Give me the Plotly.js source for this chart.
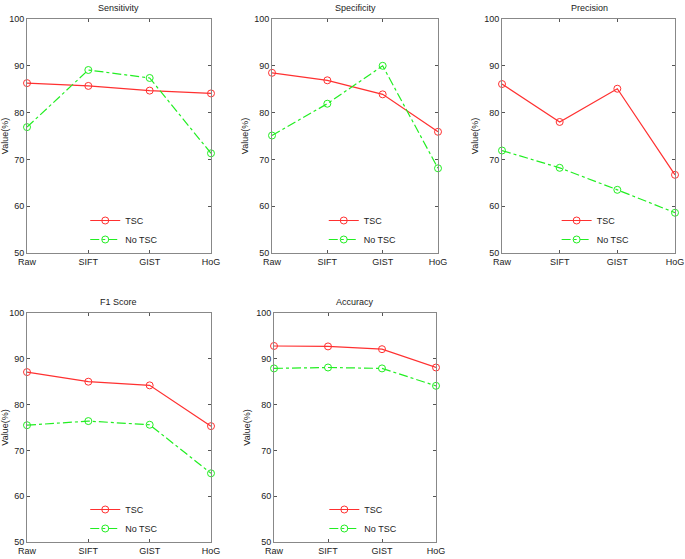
<!DOCTYPE html>
<html>
<head>
<meta charset="utf-8">
<script src="https://cdn.plot.ly/plotly-3.0.1.min.js"></script>
<style>
  body { margin: 0; background: #fff; }
  #plot { width: 685px; height: 559px; }
</style>
</head>
<body>
<div id="plot"></div>
<script>
// categories on the x axis
var methods = ["Raw", "SIFT", "GIST", "HoG"];

// panel titles
var titles = ["Sensitivity", "Specificity", "Precision", "F1 Score", "Accuracy"];

// values (%)
var sensTSC = [86.3, 85.7, 84.7, 84.1];
var sensNoTSC = [76.9, 89.1, 87.4, 71.3];
var specTSC = [88.5, 86.9, 83.9, 75.9];
var specNoTSC = [75.1, 81.9, 90.0, 68.1];
var precTSC = [86.1, 78.0, 85.1, 66.7];
var precNoTSC = [71.9, 68.2, 63.5, 58.6];
var f1TSC = [87.1, 85.0, 84.2, 75.3];
var f1NoTSC = [75.5, 76.4, 75.6, 65.0];
var accTSC = [92.8, 92.7, 92.1, 88.1];
var accNoTSC = [87.9, 88.1, 87.9, 84.1];

var tscSeries = [sensTSC, specTSC, precTSC, f1TSC, accTSC];
var noTscSeries = [sensNoTSC, specNoTSC, precNoTSC, f1NoTSC, accNoTSC];

var font = "Liberation Sans, Arial, sans-serif";

// pixel boxes of each panel: [left, right, top, bottom]
var boxes = [
  [27, 211, 19, 253],
  [272, 438, 19, 253],
  [502, 676, 19, 253],
  [27, 211, 313, 542],
  [274, 436, 313, 542]
];
var W = 685, H = 559;
var PR = 10; // right margin so the last tick label is kept
var PW = W - PR;

var data = [];
var layout = {
  width: W,
  height: H,
  margin: { l: 0, r: PR, t: 0, b: 0 },
  paper_bgcolor: "#fff",
  plot_bgcolor: "#fff",
  font: { family: font, size: 9, color: "#222" },
  annotations: []
};

for (var i = 0; i < 5; i++) {
  var n = i === 0 ? "" : String(i + 1);
  var b = boxes[i];
  var legName = "legend" + n;

  data.push({
    x: [0, 1, 2, 3],
    y: tscSeries[i],
    name: "TSC",
    type: "scatter",
    mode: "lines+markers",
    cliponaxis: false,
    xaxis: "x" + n,
    yaxis: "y" + n,
    legend: legName,
    line: { color: "#ff3030", width: 1.2 },
    marker: { symbol: "circle-open", size: 7, color: "#ff3030", line: { width: 1 } }
  });
  data.push({
    x: [0, 1, 2, 3],
    y: noTscSeries[i],
    name: "No TSC",
    type: "scatter",
    mode: "lines+markers",
    cliponaxis: false,
    xaxis: "x" + n,
    yaxis: "y" + n,
    legend: legName,
    line: { color: "#22ee22", width: 1.2, dash: "dashdot" },
    marker: { symbol: "circle-open", size: 7, color: "#22ee22", line: { width: 1 } }
  });

  layout["xaxis" + n] = {
    domain: [b[0] / PW, b[1] / PW],
    anchor: "y" + n,
    range: [0, 3],
    tickvals: [0, 1, 2, 3],
    ticktext: methods,
    ticks: "inside",
    ticklen: 3,
    tickcolor: "#555",
    mirror: "ticks",
    showline: true,
    linecolor: "#888",
    linewidth: 1,
    showgrid: false,
    zeroline: false,
    tickfont: { size: 9, family: font, color: "#222" }
  };
  layout["yaxis" + n] = {
    domain: [1 - b[3] / H, 1 - b[2] / H],
    anchor: "x" + n,
    range: [50, 100],
    dtick: 10,
    ticks: "inside",
    ticklen: 3,
    tickcolor: "#555",
    mirror: "ticks",
    showline: true,
    linecolor: "#888",
    linewidth: 1,
    showgrid: false,
    zeroline: false,
    tickfont: { size: 9, family: font, color: "#222" },
    title: { text: "Value(%)", font: { size: 9, family: font, color: "#222" }, standoff: 4 }
  };
  layout[legName] = {
    x: (b[0] + 0.36 * (b[1] - b[0]) - 8) / PW,
    y: 1 - (b[3] + 1) / H,
    xanchor: "left",
    yanchor: "bottom",
    bgcolor: "rgba(255,255,255,0)",
    borderwidth: 0,
    font: { size: 9, family: font, color: "#222" },
    tracegroupgap: 0,
    itemwidth: 30
  };
  layout.annotations.push({
    text: titles[i],
    xref: "paper",
    yref: "paper",
    x: (b[0] + b[1]) / 2 / PW,
    y: 1 - (b[2] - 4) / H,
    xanchor: "center",
    yanchor: "bottom",
    showarrow: false,
    font: { size: 9, family: font, color: "#222" }
  });
}

Plotly.newPlot("plot", data, layout, { displayModeBar: false, staticPlot: true });
</script>
</body>
</html>
